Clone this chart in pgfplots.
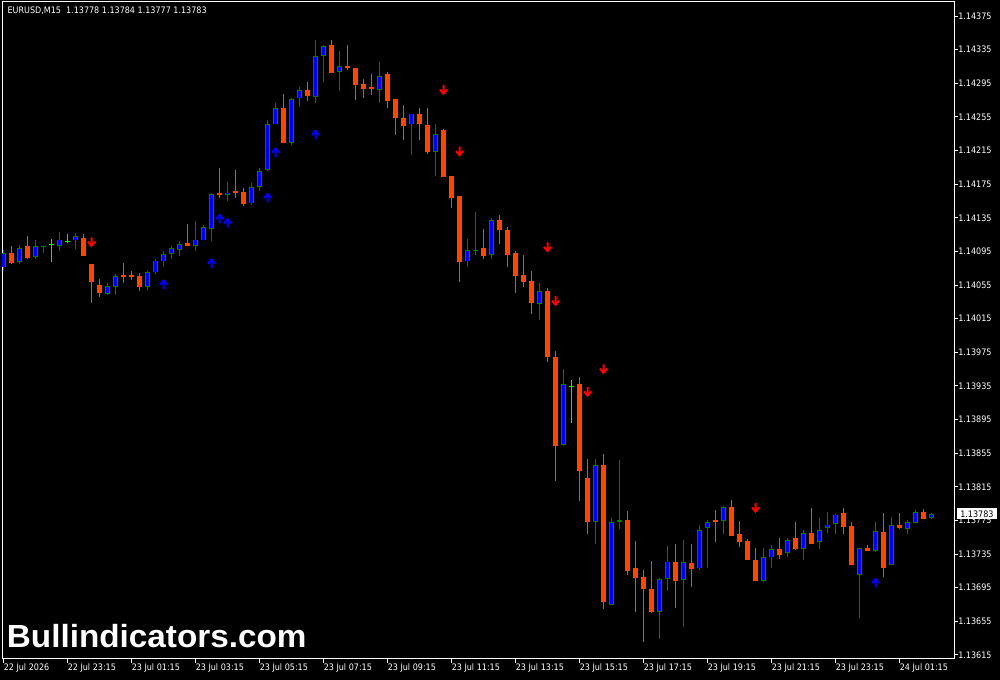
\documentclass[border=0pt]{standalone}
\usepackage{fontspec}
\usepackage{pgfplots}
\usepackage{pgfplotstable}
\pgfplotsset{compat=1.18}
\newfontfamily\mtfont{DejaVu Sans Condensed}
\newfontfamily\wmfont{Liberation Sans}

\definecolor{bullgreen}{HTML}{008000}
\definecolor{bullblue}{HTML}{0000FF}
\definecolor{bearorange}{HTML}{FF4500}
\definecolor{dojilime}{HTML}{00FF00}
\definecolor{arrowred}{HTML}{FF0000}
\definecolor{arrowblue}{HTML}{0000FF}

% arrows as plot marks
\pgfdeclareplotmark{dnarrow}{%
  \pgfsetlinewidth{1.5pt}%
  \pgfpathmoveto{\pgfpoint{0pt}{3.6pt}}%
  \pgfpathlineto{\pgfpoint{0pt}{-2.6pt}}%
  \pgfpathmoveto{\pgfpoint{-2.7pt}{0.3pt}}%
  \pgfpathlineto{\pgfpoint{0pt}{-2.8pt}}%
  \pgfpathlineto{\pgfpoint{2.7pt}{0.3pt}}%
  \pgfusepathqstroke}
\pgfdeclareplotmark{uparrow}{%
  \pgfsetlinewidth{1.5pt}%
  \pgfpathmoveto{\pgfpoint{0pt}{-3.6pt}}%
  \pgfpathlineto{\pgfpoint{0pt}{2.6pt}}%
  \pgfpathmoveto{\pgfpoint{-2.7pt}{-0.3pt}}%
  \pgfpathlineto{\pgfpoint{0pt}{2.8pt}}%
  \pgfpathlineto{\pgfpoint{2.7pt}{-0.3pt}}%
  \pgfusepathqstroke}

% EURUSD M15, bar index / open / high / low / close
\pgfplotstableread{
x o h l c
0 1.14076 1.14097 1.14073 1.14093
2 1.14082 1.14103 1.14080 1.14099
4 1.14088 1.14109 1.14086 1.14101
5 1.14101 1.14102 1.14093 1.14102
7 1.14102 1.14118 1.14096 1.14109
9 1.14108 1.14117 1.14098 1.14113
13 1.14044 1.14058 1.14043 1.14054
14 1.14053 1.14068 1.14043 1.14066
18 1.14053 1.14072 1.14049 1.14070
19 1.14070 1.14086 1.14068 1.14084
20 1.14083 1.14095 1.14077 1.14092
21 1.14092 1.14101 1.14086 1.14099
22 1.14097 1.14107 1.14090 1.14104
24 1.14102 1.14131 1.14095 1.14109
25 1.14108 1.14127 1.14108 1.14124
26 1.14122 1.14165 1.14107 1.14163
28 1.14162 1.14177 1.14155 1.14165
31 1.14152 1.14176 1.14150 1.14172
32 1.14172 1.14194 1.14167 1.14191
33 1.14192 1.14251 1.14191 1.14246
34 1.14246 1.14271 1.14246 1.14265
36 1.14224 1.14278 1.14221 1.14276
37 1.14277 1.14290 1.14267 1.14287
39 1.14279 1.14346 1.14272 1.14327
40 1.14328 1.14340 1.14296 1.14339
42 1.14308 1.14333 1.14286 1.14315
47 1.14287 1.14320 1.14272 1.14304
51 1.14246 1.14259 1.14210 1.14259
54 1.14213 1.14247 1.14185 1.14235
58 1.14083 1.14110 1.14076 1.14097
59 1.14095 1.14142 1.14091 1.14097
61 1.14091 1.14135 1.14086 1.14132
67 1.14033 1.14057 1.14013 1.14048
70 1.13865 1.13955 1.13863 1.13937
74 1.13773 1.13848 1.13747 1.13841
76 1.13674 1.13778 1.13674 1.13773
77 1.13773 1.13847 1.13765 1.13775
82 1.13666 1.13707 1.13634 1.13705
83 1.13705 1.13745 1.13691 1.13726
85 1.13704 1.13752 1.13648 1.13725
87 1.13718 1.13770 1.13716 1.13764
88 1.13766 1.13776 1.13719 1.13773
90 1.13774 1.13792 1.13759 1.13791
95 1.13703 1.13742 1.13702 1.13731
96 1.13731 1.13746 1.13718 1.13741
98 1.13736 1.13754 1.13732 1.13752
100 1.13741 1.13764 1.13728 1.13760
102 1.13749 1.13778 1.13741 1.13764
103 1.13766 1.13785 1.13760 1.13770
104 1.13771 1.13783 1.13759 1.13782
107 1.13710 1.13742 1.13659 1.13742
109 1.13739 1.13773 1.13737 1.13762
111 1.13722 1.13779 1.13722 1.13769
113 1.13765 1.13776 1.13759 1.13773
114 1.13772 1.13787 1.13772 1.13785
116 1.13778 1.13784 1.13777 1.13783
}\bull

\pgfplotstableread{
x o h l c
1 1.14093 1.14101 1.14080 1.14081
3 1.14101 1.14113 1.14086 1.14087
10 1.14111 1.14116 1.14090 1.14090
11 1.14080 1.14080 1.14034 1.14059
12 1.14055 1.14062 1.14041 1.14045
15 1.14067 1.14081 1.14058 1.14064
16 1.14067 1.14072 1.14061 1.14064
17 1.14066 1.14069 1.14048 1.14053
23 1.14105 1.14128 1.14101 1.14102
27 1.14164 1.14194 1.14159 1.14162
29 1.14167 1.14192 1.14159 1.14164
30 1.14166 1.14170 1.14149 1.14151
35 1.14266 1.14282 1.14224 1.14224
38 1.14287 1.14296 1.14274 1.14280
41 1.14340 1.14346 1.14307 1.14307
43 1.14315 1.14340 1.14311 1.14313
44 1.14313 1.14313 1.14275 1.14293
45 1.14294 1.14300 1.14278 1.14288
46 1.14290 1.14306 1.14281 1.14288
48 1.14306 1.14308 1.14266 1.14274
49 1.14276 1.14276 1.14234 1.14254
50 1.14254 1.14269 1.14227 1.14244
52 1.14258 1.14266 1.14228 1.14246
53 1.14245 1.14266 1.14211 1.14213
55 1.14239 1.14241 1.14183 1.14183
56 1.14185 1.14185 1.14147 1.14159
57 1.14161 1.14161 1.14059 1.14082
60 1.14099 1.14122 1.14086 1.14090
62 1.14132 1.14138 1.14104 1.14120
63 1.14120 1.14124 1.14077 1.14091
64 1.14093 1.14095 1.14046 1.14066
65 1.14067 1.14091 1.14053 1.14059
66 1.14060 1.14072 1.14021 1.14034
68 1.14048 1.14051 1.13963 1.13969
69 1.13969 1.13977 1.13822 1.13863
72 1.13937 1.13946 1.13798 1.13834
73 1.13825 1.13848 1.13759 1.13773
75 1.13841 1.13854 1.13670 1.13678
78 1.13776 1.13786 1.13710 1.13715
79 1.13718 1.13751 1.13666 1.13706
80 1.13708 1.13716 1.13630 1.13694
81 1.13693 1.13727 1.13665 1.13666
84 1.13726 1.13747 1.13671 1.13703
86 1.13724 1.13747 1.13696 1.13717
89 1.13776 1.13787 1.13749 1.13773
91 1.13791 1.13799 1.13757 1.13757
92 1.13759 1.13774 1.13744 1.13749
93 1.13751 1.13753 1.13728 1.13728
94 1.13728 1.13742 1.13703 1.13703
97 1.13741 1.13754 1.13729 1.13734
99 1.13754 1.13773 1.13740 1.13741
101 1.13760 1.13790 1.13747 1.13747
105 1.13784 1.13790 1.13759 1.13767
106 1.13768 1.13773 1.13722 1.13722
108 1.13742 1.13746 1.13739 1.13739
110 1.13761 1.13784 1.13708 1.13719
112 1.13770 1.13784 1.13765 1.13766
115 1.13785 1.13789 1.13777 1.13777
}\bear

\pgfplotstableread{
x o h l c
6 1.14103 1.14110 1.14082 1.14103
8 1.14107 1.14116 1.14105 1.14107
71 1.13934 1.13942 1.13891 1.13934
}\doji

\pgfplotsset{
  candle/.style 2 args={draw=none, mark=none, forget plot,
    error bars/y dir=minus, error bars/y explicit, error bars/error mark=none,
    error bars/error bar style={draw=#1, line width=#2}},
}

\begin{document}
\begin{tikzpicture}
\fill[black] (0,0) rectangle (750pt,510pt);
\begin{axis}[
  at={(1.5pt,15.75pt)}, anchor=south west,
  scale only axis, width=714pt, height=492.75pt,
  xmin=-0.1875, xmax=118.8125,
  ymin=1.136102, ymax=1.143917,
  axis line style={white, line width=0.75pt},
  tick style={white, line width=0.75pt},
  tick align=outside, major tick length=3pt,
  xtick pos=left, ytick pos=right, yticklabel pos=right,
  xtick={0,8,...,112},
  xticklabels={22 Jul 2026,22 Jul 23:15,23 Jul 01:15,23 Jul 03:15,23 Jul 05:15,23 Jul 07:15,23 Jul 09:15,23 Jul 11:15,23 Jul 13:15,23 Jul 15:15,23 Jul 17:15,23 Jul 19:15,23 Jul 21:15,23 Jul 23:15,24 Jul 01:15},
  ytick={1.13615,1.13655,1.13695,1.13735,1.13775,1.13815,1.13855,1.13895,1.13935,1.13975,1.14015,1.14055,1.14095,1.14135,1.14175,1.14215,1.14255,1.14295,1.14335,1.14375},
  yticklabels={1.13615,1.13655,1.13695,1.13735,1.13775,1.13815,1.13855,1.13895,1.13935,1.13975,1.14015,1.14055,1.14095,1.14135,1.14175,1.14215,1.14255,1.14295,1.14335,1.14375},
  ticklabel style={font=\mtfont\fontsize{6.7}{8}\selectfont, text=white, inner sep=0pt},
  xticklabel style={anchor=north west},
  yticklabel style={anchor=west},
]
% wicks
\addplot[candle={bullgreen}{0.75pt}]
  table[x=x, y=h, y error minus expr=\thisrow{h}-\thisrow{l}] {\bull};
\addplot[candle={bearorange}{0.75pt}]
  table[x=x, y=h, y error minus expr=\thisrow{h}-\thisrow{l}] {\bear};
\addplot[candle={dojilime}{0.75pt}]
  table[x=x, y=h, y error minus expr=\thisrow{h}-\thisrow{l}] {\doji};
% bodies
\addplot[candle={bullgreen}{3.75pt}]
  table[x=x, y=c, y error minus expr=\thisrow{c}-\thisrow{o}] {\bull};
\addplot[candle={bullblue}{2.25pt}]
  table[x=x, y expr=\thisrow{c}-0.00001, y error minus expr={max(\thisrow{c}-\thisrow{o}-0.00002,0)}] {\bull};
\addplot[candle={bearorange}{3.75pt}]
  table[x=x, y=o, y error minus expr={max(\thisrow{o}-\thisrow{c},0.00001)}] {\bear};
\addplot[draw=none, mark=none, forget plot,
  error bars/x dir=both, error bars/x fixed=0.3, error bars/error mark=none,
  error bars/error bar style={draw=dojilime, line width=0.75pt}]
  table[x=x, y=o] {\doji};
% signal arrows
\addplot[only marks, mark=dnarrow, color=arrowred] coordinates {
  (11,1.14106) (55,1.14287) (57,1.14214) (68,1.14100)
  (69,1.14036) (73,1.13928) (75,1.13955) (94,1.13790)};
\addplot[only marks, mark=uparrow, color=arrowblue] coordinates {
  (20,1.14056) (26,1.14081) (27,1.14134) (28,1.14129)
  (33,1.14159) (34,1.14213) (39,1.14234) (109,1.13701)};
\end{axis}
\node[anchor=west, text=white, inner sep=0pt, font=\mtfont\fontsize{6.7}{8}\selectfont]
  at (5.5pt,502pt) {EURUSD,M15\ \ 1.13778 1.13784 1.13777 1.13783};
\node[anchor=base west, text=white, inner sep=0pt, xscale=1.04,
  font=\wmfont\bfseries\fontsize{24}{28}\selectfont]
  at (5pt,24.5pt) {Bullindicators.com};
\node[anchor=west, fill=white, text=black, inner sep=0pt, minimum width=30pt, minimum height=8.25pt,
  font=\mtfont\fontsize{6.7}{8}\selectfont] at (717.5pt,124.5pt) {1.13783};
\pgfresetboundingbox
\useasboundingbox (0,0) rectangle (750pt,510pt);
\end{tikzpicture}
\end{document}
